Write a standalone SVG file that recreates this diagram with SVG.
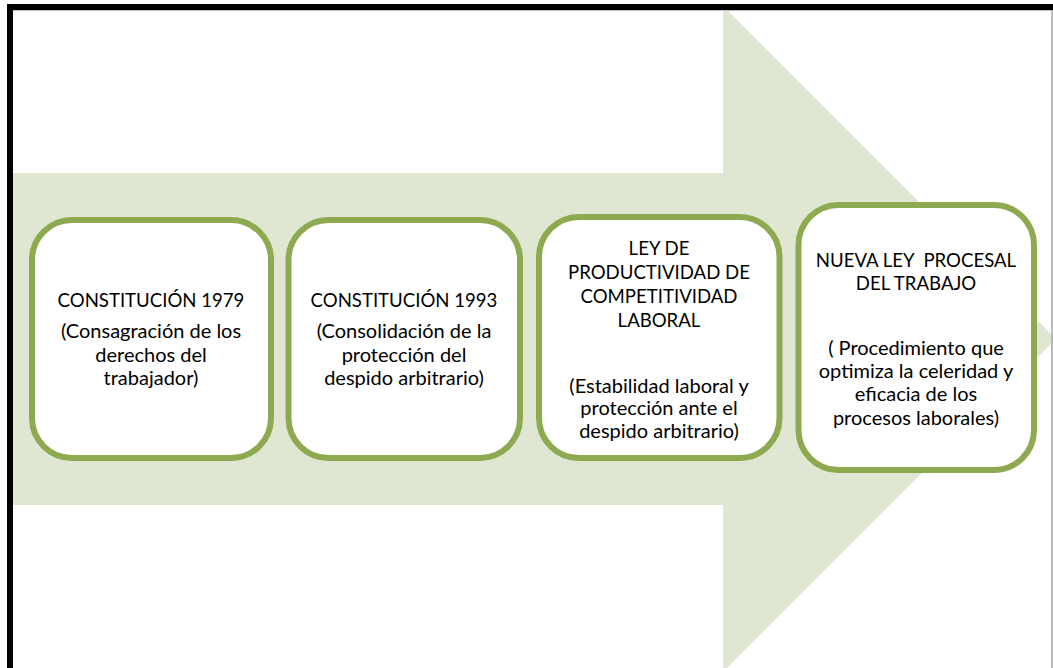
<svg xmlns="http://www.w3.org/2000/svg" width="1053" height="668" viewBox="0 0 1053 668">
  <style>
    .box { fill: #ffffff; stroke: #8eaa51; stroke-width: 6; }
    .t { font-family: Lato, "Liberation Sans", sans-serif; font-size: 20px; fill: #000000; text-anchor: middle; }
    .c { font-size: 18.6px; }
  </style>
  <rect x="0" y="0" width="1053" height="668" fill="#ffffff"/>
  <g id="arrow">
    <polygon points="13,173 723,173 723,6 1056,339 723,672 723,505 13,505" fill="#dfe7d2"/>
  </g>
  <g id="frame">
    <line x1="7" y1="10.5" x2="1053" y2="10.5" stroke="#bfbfbf" stroke-width="1"/>
    <line x1="1052" y1="4" x2="1052" y2="668" stroke="#a6a6a6" stroke-width="1.5"/>
    <rect x="7" y="4" width="1046" height="6" fill="#000000"/>
    <rect x="7" y="4" width="6" height="664" fill="#000000"/>
  </g>
  <g id="connectors"></g>
  <g id="node1">
    <rect class="box" x="32" y="220" width="239" height="238" rx="40" ry="40"/>
    <text class="t c" x="151" y="306.5">CONSTITUCIÓN 1979</text>
    <text class="t" x="151" y="338">(Consagración de los</text>
    <text class="t" x="151" y="361.5">derechos del</text>
    <text class="t" x="151" y="385">trabajador)</text>
  </g>
  <g id="node2">
    <rect class="box" x="288.5" y="220" width="231.5" height="238" rx="40" ry="40"/>
    <text class="t c" x="404" y="306.5">CONSTITUCIÓN 1993</text>
    <text class="t" x="404" y="338">(Consolidación de la</text>
    <text class="t" x="404" y="361.5">protección del</text>
    <text class="t" x="404" y="385">despido arbitrario)</text>
  </g>
  <g id="node3">
    <rect class="box" x="539" y="217" width="240.5" height="241" rx="40" ry="40"/>
    <text class="t c" x="659" y="255">LEY DE</text>
    <text class="t c" x="659" y="279">PRODUCTIVIDAD DE</text>
    <text class="t c" x="659" y="302.5">COMPETITIVIDAD</text>
    <text class="t c" x="659" y="326.5">LABORAL</text>
    <text class="t" x="659" y="392.5">(Estabilidad laboral y</text>
    <text class="t" x="659" y="415">protección ante el</text>
    <text class="t" x="659" y="438">despido arbitrario)</text>
  </g>
  <g id="node4">
    <rect class="box" x="798.5" y="205" width="235.5" height="265" rx="40" ry="40"/>
    <text class="t c" x="916" y="266.5" xml:space="preserve">NUEVA LEY  PROCESAL</text>
    <text class="t c" x="916" y="290">DEL TRABAJO</text>
    <text class="t" x="916" y="355" xml:space="preserve">( Procedimiento que</text>
    <text class="t" x="916" y="378">optimiza la celeridad y</text>
    <text class="t" x="916" y="401">eficacia de los</text>
    <text class="t" x="916" y="425">procesos laborales)</text>
  </g>
</svg>
